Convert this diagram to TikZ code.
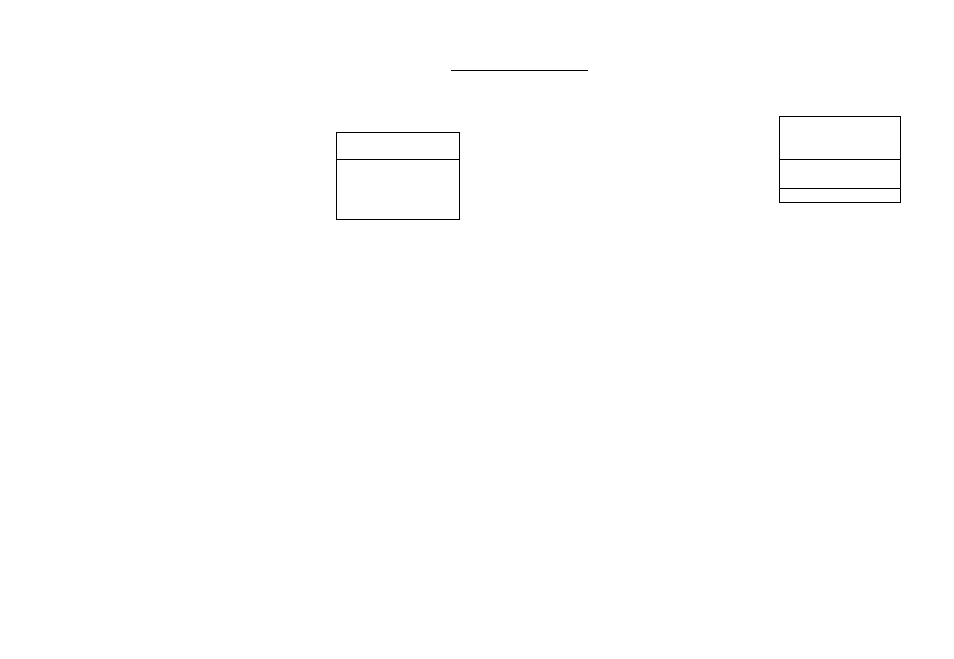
\documentclass[tikz,border=0pt]{standalone}
\begin{document}
\begin{tikzpicture}[x=1pt,y=-1pt,
  boxpart/.style={draw=black,line width=1pt,rectangle,inner sep=0pt,outer sep=0pt,anchor=north west},
  rule/.style={draw=black,line width=1pt}]
\useasboundingbox (0,0) rectangle (954,659);
% top line
\coordinate (la) at (451,70.5);
\coordinate (lb) at (588,70.5);
\draw[rule] (la) -- (lb);
% left box
\node[boxpart,minimum width=123pt,minimum height=26.5pt] (l1) at (336.5,132.5) {};
\node[boxpart,minimum width=123pt,minimum height=60pt] (l2) at (l1.south west) {};
% right box
\node[boxpart,minimum width=121pt,minimum height=43pt] (r1) at (779.5,116) {};
\node[boxpart,minimum width=121pt,minimum height=29pt] (r2) at (r1.south west) {};
\node[boxpart,minimum width=121pt,minimum height=14.5pt] (r3) at (r2.south west) {};
\end{tikzpicture}
\end{document}
